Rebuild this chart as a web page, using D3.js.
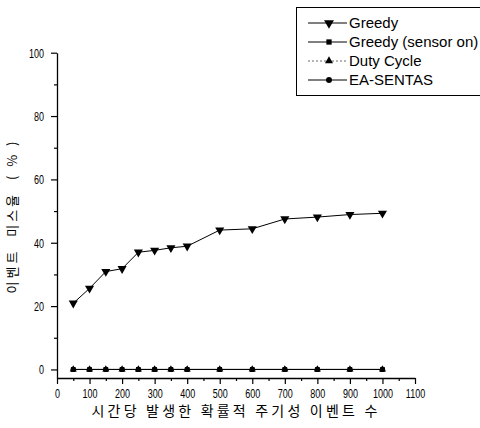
<!DOCTYPE html>
<html>
<head>
<meta charset="utf-8">
<script src="https://cdn.jsdelivr.net/npm/d3@7"></script>
<style>
  body { margin: 0; background: #fff; }
  svg { display: block; }
</style>
</head>
<body>
<div id="chart"></div>
<script>
var width = 480;
var height = 428;

// data
var events = [50, 100, 150, 200, 250, 300, 350, 400, 500, 600, 700, 800, 900, 1000];
var greedy = [20.9, 25.6, 30.9, 31.8, 37.0, 37.6, 38.4, 38.9, 44.0, 44.4, 47.5, 48.1, 48.9, 49.3];
var greedySensorOn = [0, 0, 0, 0, 0, 0, 0, 0, 0, 0, 0, 0, 0, 0];
var dutyCycle = [0, 0, 0, 0, 0, 0, 0, 0, 0, 0, 0, 0, 0, 0];
var eaSentas = [0, 0, 0, 0, 0, 0, 0, 0, 0, 0, 0, 0, 0, 0];
var seriesNames = ["Greedy", "Greedy (sensor on)", "Duty Cycle", "EA-SENTAS"];
var xTicks = [0, 100, 200, 300, 400, 500, 600, 700, 800, 900, 1000, 1100];
var yTicks = [0, 20, 40, 60, 80, 100];
var xLabel = "시간당 발생한 확률적 주기성 이벤트 수";
var yLabel = "이벤트  미스율  ( % )";

var svg = d3.select("#chart")
  .append("svg")
  .attr("width", width)
  .attr("height", height);

var x = d3.scaleLinear().domain([0, 1100]).range([57, 415]);
var y = d3.scaleLinear().domain([-2.7, 100]).range([378, 52.7]);

var tickFont = "'Liberation Sans', Arial, sans-serif";

// x axis
var gx = svg.append("g")
  .attr("transform", "translate(0," + y.range()[0] + ")")
  .call(d3.axisBottom(x).tickValues(xTicks).tickFormat(d3.format("d")).tickSize(6).tickSizeOuter(0).tickPadding(5));
svg.append("g")
  .attr("transform", "translate(0," + y.range()[0] + ")")
  .call(d3.axisBottom(x).tickValues(xTicks.slice(0, -1).map(function(d) { return d + 50; })).tickSize(3).tickFormat(""))
  .call(function(g) { g.select(".domain").remove(); });

// y axis
var gy = svg.append("g")
  .attr("transform", "translate(" + x.range()[0] + ",0)")
  .call(d3.axisLeft(y).tickValues(yTicks).tickSize(6).tickSizeOuter(0).tickPadding(12));
svg.append("g")
  .attr("transform", "translate(" + x.range()[0] + ",0)")
  .call(d3.axisLeft(y).tickValues(yTicks.slice(0, -1).map(function(d) { return d + 10; })).tickSize(3).tickFormat(""))
  .call(function(g) { g.select(".domain").remove(); });

svg.selectAll(".domain").attr("stroke", "#000").attr("stroke-width", 1.3);
svg.selectAll(".tick line").attr("stroke", "#000").attr("stroke-width", 1.2);

// narrow-looking tick numbers
gx.selectAll("text")
  .attr("font-family", tickFont)
  .attr("font-size", 12.5)
  .attr("fill", "#000")
  .attr("transform", "scale(0.72,1)");
gy.selectAll("text")
  .attr("font-family", tickFont)
  .attr("font-size", 12.5)
  .attr("fill", "#000")
  .attr("dy", "0.36em")
  .attr("transform", "scale(0.72,1)");

// axis titles
svg.append("text")
  .attr("x", 236)
  .attr("y", 416)
  .attr("text-anchor", "middle")
  .attr("font-family", "'Noto Sans CJK KR', sans-serif")
  .attr("font-size", 14)
  .attr("letter-spacing", 3.2)
  .text(xLabel);

svg.append("text")
  .attr("transform", "translate(17,216) rotate(-90)")
  .attr("text-anchor", "middle")
  .attr("font-family", "'Noto Sans CJK KR', sans-serif")
  .attr("font-size", 13)
  .attr("letter-spacing", 3)
  .attr("xml:space", "preserve")
  .style("white-space", "pre")
  .text(yLabel);

// series
var series = [
  { name: seriesNames[0], values: greedy, symbol: d3.symbolTriangle, rotate: 180, size: 36, dash: null, color: "#000", width: 1 },
  { name: seriesNames[1], values: greedySensorOn, symbol: d3.symbolSquare, rotate: 0, size: 22, dash: null, color: "#000", width: 1 },
  { name: seriesNames[2], values: dutyCycle, symbol: d3.symbolTriangle, rotate: 0, size: 22, dash: "2,2", color: "#444", width: 0.8 },
  { name: seriesNames[3], values: eaSentas, symbol: d3.symbolCircle, rotate: 0, size: 22, dash: null, color: "#000", width: 1 }
];

var line = d3.line()
  .x(function(d) { return x(d[0]); })
  .y(function(d) { return y(d[1]); });

series.forEach(function(s) {
  var pts = events.map(function(e, i) { return [e, s.values[i]]; });
  svg.append("path")
    .datum(pts)
    .attr("fill", "none")
    .attr("stroke", s.color)
    .attr("stroke-width", s.width)
    .attr("stroke-dasharray", s.dash)
    .attr("d", line);
});

series.slice().reverse().forEach(function(s) {
  svg.append("g")
    .selectAll("path")
    .data(events.map(function(e, i) { return [e, s.values[i]]; }))
    .enter()
    .append("path")
    .attr("d", d3.symbol().type(s.symbol).size(s.size))
    .attr("fill", "#000")
    .attr("transform", function(d) {
      return "translate(" + x(d[0]) + "," + y(d[1]) + ") rotate(" + s.rotate + ")";
    });
});

// legend
var legend = svg.append("g");
legend.append("rect")
  .attr("x", 296.5)
  .attr("y", 7.5)
  .attr("width", 200)
  .attr("height", 88)
  .attr("fill", "#fff")
  .attr("stroke", "#000")
  .attr("stroke-width", 1);

var legendY = d3.scalePoint().domain(seriesNames).range([23, 80]);

series.forEach(function(s) {
  var ly = legendY(s.name);
  legend.append("line")
    .attr("x1", 308)
    .attr("x2", 347)
    .attr("y1", ly)
    .attr("y2", ly)
    .attr("stroke", s.color)
    .attr("stroke-width", s.width)
    .attr("stroke-dasharray", s.dash);
  legend.append("path")
    .attr("d", d3.symbol().type(s.symbol).size(s.size + 6))
    .attr("fill", "#000")
    .attr("transform", "translate(329," + ly + ") rotate(" + s.rotate + ")");
  legend.append("text")
    .attr("x", 349)
    .attr("y", ly)
    .attr("dy", "0.36em")
    .attr("font-family", tickFont)
    .attr("font-size", 15)
    .text(s.name);
});
</script>
</body>
</html>
